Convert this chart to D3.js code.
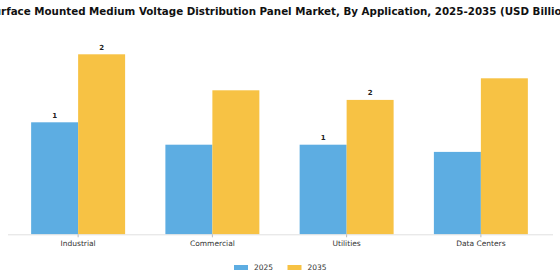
<!DOCTYPE html>
<html>
<head>
<meta charset="utf-8">
<script src="https://cdn.jsdelivr.net/npm/d3@7"></script>
<style>
  body { margin: 0; background: #fff; }
  svg { display: block; font-family: "DejaVu Sans", sans-serif; }
</style>
</head>
<body>
<div id="chart"></div>
<script>
// Chart data
const categories = ["Industrial", "Commercial", "Utilities", "Data Centers"];
const years = ["2025", "2035"];
const values2025 = [1.4, 1.12, 1.12, 1.03];
const values2035 = [2.25, 1.8, 1.68, 1.95];
// value labels drawn only on some bars, as in the source
const labels2025 = ["1", "", "1", ""];
const labels2035 = ["2", "", "2", ""];
const title = "Surface Mounted Medium Voltage Distribution Panel Market, By Application, 2025-2035 (USD Billion)";

const width = 560, height = 280;
const colors = { "2025": "#5dade2", "2035": "#f7c244" };

const svg = d3.select("#chart").append("svg")
    .attr("width", width)
    .attr("height", height);

// Title (wider than the canvas, cut at both edges like the source)
svg.append("text")
    .attr("x", width / 2)
    .attr("y", 14.8)
    .attr("text-anchor", "middle")
    .style("font-size", "10.3px")
    .style("font-weight", "bold")
    .attr("fill", "#111")
    .text(title);

// Scales
const x0 = d3.scaleBand()
    .domain(categories)
    .range([11, 548])
    .paddingInner(0.3)
    .paddingOuter(0.15);

const x1 = d3.scaleBand()
    .domain(years)
    .range([0, x0.bandwidth()]);

const y = d3.scaleLinear()
    .domain([0, 2.5])
    .range([234.3, 34.3]);

const rows = categories.map((c, i) => ({
    category: c,
    bars: [
        { year: "2025", value: values2025[i], label: labels2025[i] },
        { year: "2035", value: values2035[i], label: labels2035[i] }
    ]
}));

// Bars
const groups = svg.append("g")
    .selectAll("g")
    .data(rows)
    .enter().append("g")
    .attr("transform", d => "translate(" + x0(d.category) + ",0)");

groups.selectAll("rect")
    .data(d => d.bars)
    .enter().append("rect")
    .attr("x", d => x1(d.year))
    .attr("y", d => y(d.value))
    .attr("width", x1.bandwidth())
    .attr("height", d => y(0) - y(d.value))
    .attr("fill", d => colors[d.year]);

groups.selectAll("text.value")
    .data(d => d.bars.filter(b => b.label))
    .enter().append("text")
    .attr("class", "value")
    .attr("x", d => x1(d.year) + x1.bandwidth() / 2)
    .attr("y", d => y(d.value) - 4.5)
    .attr("text-anchor", "middle")
    .style("font-size", "7px")
    .style("font-weight", "bold")
    .attr("fill", "#222")
    .text(d => d.label);

// x axis
const xAxis = svg.append("g")
    .attr("transform", "translate(0," + y(0) + ")")
    .call(d3.axisBottom(x0).tickSize(3).tickSizeOuter(0));

xAxis.select(".domain")
    .attr("d", "M8,0.5H553")
    .attr("stroke", "#e0e0e0");
xAxis.selectAll(".tick line").attr("stroke", "#bbb");
xAxis.selectAll(".tick text")
    .attr("y", 6)
    .style("font-size", "7.5px")
    .style("font-family", "DejaVu Sans, sans-serif")
    .attr("fill", "#333");

// Legend
const legend = svg.append("g");
const legendX = [234, 287.5];
years.forEach((yr, i) => {
    legend.append("rect")
        .attr("x", legendX[i])
        .attr("y", 265)
        .attr("width", 14)
        .attr("height", 5)
        .attr("fill", colors[yr]);
    legend.append("text")
        .attr("x", legendX[i] + 20)
        .attr("y", 267.5)
        .attr("dominant-baseline", "middle")
        .style("font-size", "7.5px")
        .attr("fill", "#333")
        .text(yr);
});
</script>
</body>
</html>
